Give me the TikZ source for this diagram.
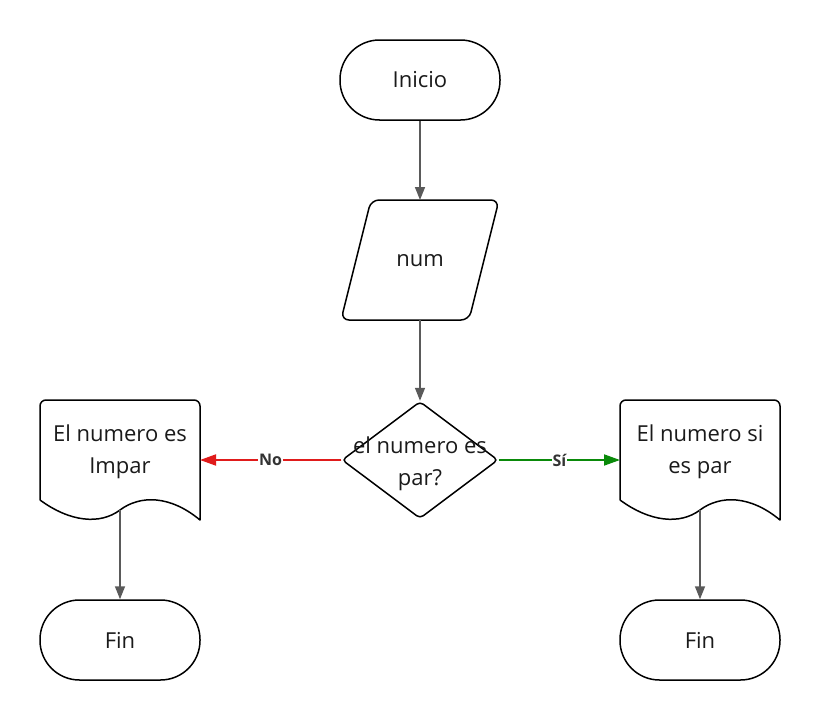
\documentclass[tikz,border=0pt]{standalone}
\usepackage{fontspec}
\setmainfont{Open Sans}
\usetikzlibrary{shapes.geometric,arrows.meta}
\definecolor{conn}{HTML}{5A5A5A}
\definecolor{nored}{HTML}{E01B1B}
\definecolor{sigreen}{HTML}{0A8A0A}
\definecolor{txt}{HTML}{1A1A1A}
\begin{document}
\begin{tikzpicture}[x=1pt,y=-1pt,
  outline/.style={draw=black,line width=1.5pt},
  stadium/.style={outline,rounded corners=39.5pt,minimum width=160pt,minimum height=80pt,inner sep=0pt,font=\fontsize{22}{32}\selectfont,text=txt},
  lbl/.style={font=\fontsize{22}{32}\selectfont,text=txt,align=center,inner sep=0pt},
  conn/.style={draw=conn,line width=1.5pt,-{Triangle[length=13pt,width=10pt]}},
  edgelbl/.style={fill=white,inner sep=1pt,font=\bfseries\fontsize{16}{18}\selectfont,text=black!80}
]
\useasboundingbox (0,0) rectangle (820,720);
% Inicio
\node[stadium] (inicio) at (420,80) {Inicio};
% num parallelogram
\coordinate (p1) at (371,200);
\coordinate (p2) at (499,200);
\coordinate (p3) at (469,320);
\coordinate (p4) at (341,320);
\draw[outline,rounded corners=8pt,line join=round] (p1) -- (p2) -- (p3) -- (p4) -- cycle;
\node[lbl] (num) at (420,261) {num};
\coordinate (numtop) at (420,200);
\coordinate (numbot) at (420,320);
% decision
\node[diamond,outline,rounded corners=4pt,minimum width=156pt,minimum height=117pt,inner sep=0pt] (dec) at (420,460) {};
\node[lbl] (dectxt) at (420,464) {el numero es\\par?};
% left document
\coordinate (l1) at (40,400);
\coordinate (l2) at (200,400);
\coordinate (l3) at (200,520);
\coordinate (lm) at (120,510);
\coordinate (l4) at (40,500);
\draw[outline,line join=round] (l4) [rounded corners=6pt] -- (l1) -- (l2) [sharp corners] -- (l3)
   .. controls (170,495) and (140,495) .. (lm)
   .. controls (100,525) and (70,522) .. (l4);
\node[lbl] (impar) at (120,452) {El numero es\\Impar};
% right document
\coordinate (r1) at (620,400);
\coordinate (r2) at (780,400);
\coordinate (r3) at (780,520);
\coordinate (rm) at (700,510);
\coordinate (r4) at (620,500);
\draw[outline,line join=round] (r4) [rounded corners=6pt] -- (r1) -- (r2) [sharp corners] -- (r3)
   .. controls (750,495) and (720,495) .. (rm)
   .. controls (680,525) and (650,522) .. (r4);
\node[lbl] (par) at (700,452) {El numero si\\es par};
% Fin nodes
\node[stadium] (finl) at (120,640) {Fin};
\node[stadium] (finr) at (700,640) {Fin};
% connectors
\draw[conn] (inicio.south) -- (numtop);
\draw[conn] (numbot) -- (dec.north);
\draw[conn,line width=1.8pt,draw=nored,-{Triangle[length=16pt,width=11pt]},fill=nored] (dec.west) -- node[edgelbl,pos=0.5] {No} (l2 |- dec.west);
\draw[conn,line width=1.8pt,draw=sigreen,-{Triangle[length=16pt,width=11pt]},fill=sigreen] (dec.east) -- node[edgelbl,pos=0.5] {Sí} (r1 |- dec.east);
\draw[conn] (lm) -- (finl.north);
\draw[conn] (rm) -- (finr.north);
\end{tikzpicture}
\end{document}
